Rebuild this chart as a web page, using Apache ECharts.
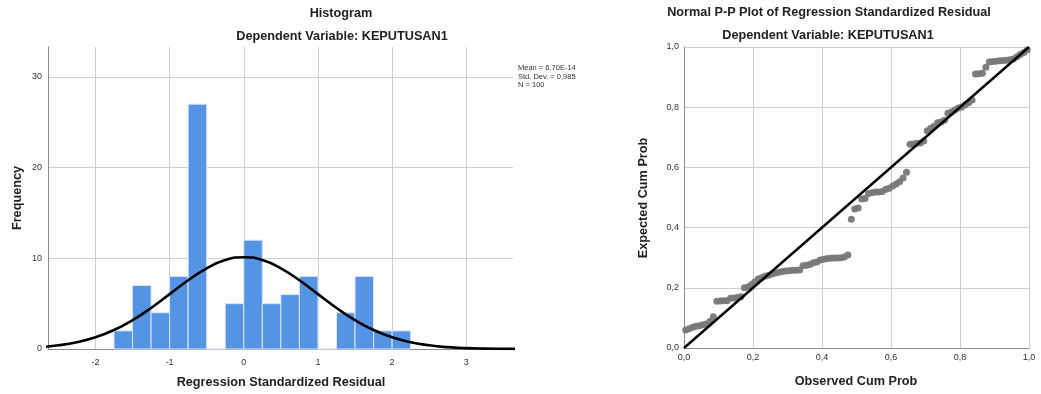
<!DOCTYPE html>
<html><head><meta charset="utf-8">
<script src="https://cdn.jsdelivr.net/npm/echarts@6/dist/echarts.min.js"></script>
<style>html,body{margin:0;padding:0;background:#fff}#c{width:1041px;height:394px}</style>
</head><body><div id="c"></div>
<script>
// Histogram bins: [start, end]
const binStart = [-1.75,-1.5,-1.25,-1.0,-0.75,-0.5,-0.25,0,0.25,0.5,0.75,1.0,1.25,1.5,1.75,2.0];
const binEnd   = [-1.5,-1.25,-1.0,-0.75,-0.5,-0.25,0,0.25,0.5,0.75,1.0,1.25,1.5,1.75,2.0,2.25];
const binCount = [2,7,4,8,27,0,5,12,5,6,8,0,4,8,2,2];
// Normal curve
const curveX = [-2.75,-2.5,-2.25,-2.0,-1.75,-1.5,-1.25,-1.0,-0.75,-0.5,-0.25,0,0.25,0.5,0.75,1.0,1.25,1.5,1.75,2.0,2.25,2.5,2.75,3.0,3.25,3.5,3.75];
const curveY = [0.205,0.404,0.745,1.288,2.089,3.175,4.525,6.048,7.577,8.901,9.804,10.125,9.804,8.901,7.577,6.048,4.525,3.175,2.089,1.288,0.745,0.404,0.205,0.098,0.044,0.018,0.007];
const histXTicks = [-2,-1,0,1,2,3];
const histYTicks = [0,10,20,30];
const statsLines = ['Mean = 6,70E-14','Std. Dev. = 0,985','N = 100'];
// P-P plot
const observedCum = [0.005,0.015,0.025,0.035,0.045,0.055,0.065,0.075,0.085,0.095,
0.105,0.115,0.125,0.135,0.145,0.155,0.165,0.175,0.185,0.195,
0.205,0.215,0.225,0.235,0.245,0.255,0.265,0.275,0.285,0.295,
0.305,0.315,0.325,0.335,0.345,0.355,0.365,0.375,0.385,0.395,
0.405,0.415,0.425,0.435,0.445,0.455,0.465,0.475,0.485,0.495,
0.505,0.515,0.525,0.535,0.545,0.555,0.565,0.575,0.585,0.595,
0.605,0.615,0.625,0.635,0.645,0.655,0.665,0.675,0.685,0.695,
0.705,0.715,0.725,0.735,0.745,0.755,0.765,0.775,0.785,0.795,
0.805,0.815,0.825,0.835,0.845,0.855,0.865,0.875,0.885,0.895,
0.905,0.915,0.925,0.935,0.945,0.955,0.965,0.975,0.985,0.995];
const expectedCum = [0.060,0.064,0.069,0.072,0.074,0.077,0.080,0.088,0.104,0.155,
0.156,0.157,0.157,0.165,0.166,0.168,0.170,0.200,0.203,0.210,
0.219,0.229,0.233,0.238,0.242,0.246,0.249,0.252,0.254,0.256,
0.257,0.258,0.258,0.259,0.273,0.275,0.277,0.283,0.286,0.292,
0.295,0.297,0.298,0.299,0.299,0.300,0.302,0.309,0.428,0.462,
0.465,0.495,0.497,0.513,0.516,0.518,0.518,0.520,0.527,0.531,
0.538,0.545,0.552,0.565,0.584,0.677,0.678,0.680,0.681,0.688,
0.722,0.730,0.737,0.748,0.751,0.757,0.780,0.784,0.791,0.797,
0.801,0.808,0.815,0.824,0.910,0.911,0.913,0.933,0.950,0.952,
0.953,0.954,0.955,0.956,0.958,0.960,0.968,0.975,0.982,0.990];
const diagX = [0,1];
const diagY = [0,1];

const FONT = '"Liberation Sans", Arial, sans-serif';
const chart = echarts.init(document.getElementById('c'));
const histData = binStart.map((s,i)=>[s,binEnd[i],binCount[i]]);
const commaFmt = v => v.toFixed(1).replace('.', ',');
const gridLine = {show:true, lineStyle:{color:'#cfcfcf', width:1}};
const axisLine = {show:true, onZero:false, lineStyle:{color:'#8c8c8c', width:1}};
const lbl = {color:'#333', fontSize:9, fontFamily:FONT};

chart.setOption({
  animation:false,
  grid:[
    {left:48, right:528, top:47, bottom:45},
    {left:684, right:12, top:47, bottom:46}
  ],
  xAxis:[
    {type:'value', gridIndex:0, min:-2.64, max:3.63,
     axisLine:axisLine, axisTick:{show:false, customValues:histXTicks},
     axisLabel:Object.assign({customValues:histXTicks, margin:9}, lbl),
     splitLine:gridLine},
    {type:'value', gridIndex:1, min:0, max:1, interval:0.2,
     axisLine:axisLine, axisTick:{show:false},
     axisLabel:Object.assign({formatter:commaFmt, margin:5}, lbl),
     splitLine:gridLine}
  ],
  yAxis:[
    {type:'value', gridIndex:0, min:0, max:33.3, interval:10,
     axisLine:axisLine, axisTick:{show:false, customValues:histYTicks},
     axisLabel:Object.assign({customValues:histYTicks, margin:6}, lbl),
     splitLine:gridLine},
    {type:'value', gridIndex:1, min:0, max:1, interval:0.2,
     axisLine:axisLine, axisTick:{show:false},
     axisLabel:Object.assign({formatter:commaFmt, margin:5}, lbl),
     splitLine:gridLine}
  ],
  series:[
    {type:'custom', xAxisIndex:0, yAxisIndex:0, data:histData,
     renderItem:function(params, api){
       const p0 = api.coord([api.value(0), 0]);
       const p1 = api.coord([api.value(1), api.value(2)]);
       return {type:'rect', shape:{x:p0[0], y:p1[1], width:p1[0]-p0[0], height:p0[1]-p1[1]},
         style:{fill:'#5594e4', stroke:'#d8e6f8', lineWidth:1}};
     }},
    {type:'line', xAxisIndex:0, yAxisIndex:0, data:curveX.map((x,i)=>[x,curveY[i]]),
     smooth:true, showSymbol:false, symbol:'none', clip:true,
     lineStyle:{color:'#000', width:2.6}},
    {type:'scatter', xAxisIndex:1, yAxisIndex:1, data:observedCum.map((x,i)=>[x,expectedCum[i]]),
     symbol:'circle', symbolSize:7, itemStyle:{color:'#787878', opacity:0.95}},
    {type:'line', xAxisIndex:1, yAxisIndex:1, data:diagX.map((x,i)=>[x,diagY[i]]),
     showSymbol:false, symbol:'none', lineStyle:{color:'#000', width:2.4}, z:5}
  ],
  graphic:[
    {type:'text', x:341, y:13, style:{text:'Histogram', font:'bold 12.7px '+FONT, fill:'#222', textAlign:'center', textVerticalAlign:'middle'}},
    {type:'text', x:342, y:36, style:{text:'Dependent Variable: KEPUTUSAN1', font:'bold 12.7px '+FONT, fill:'#222', textAlign:'center', textVerticalAlign:'middle'}},
    {type:'text', x:281, y:382, style:{text:'Regression Standardized Residual', font:'bold 12.7px '+FONT, fill:'#222', textAlign:'center', textVerticalAlign:'middle'}},
    {type:'text', x:17, y:198, rotation:Math.PI/2, style:{text:'Frequency', font:'bold 12.7px '+FONT, fill:'#222', textAlign:'center', textVerticalAlign:'middle'}},
    {type:'text', x:518, y:64, style:{text:statsLines.join('\n'), font:'7.5px '+FONT, fill:'#333', textAlign:'left', textVerticalAlign:'top', lineHeight:8.3}},
    {type:'text', x:829, y:12, style:{text:'Normal P-P Plot of Regression Standardized Residual', font:'bold 12.7px '+FONT, fill:'#222', textAlign:'center', textVerticalAlign:'middle'}},
    {type:'text', x:828, y:35, style:{text:'Dependent Variable: KEPUTUSAN1', font:'bold 12.7px '+FONT, fill:'#222', textAlign:'center', textVerticalAlign:'middle'}},
    {type:'text', x:856, y:381, style:{text:'Observed Cum Prob', font:'bold 12.7px '+FONT, fill:'#222', textAlign:'center', textVerticalAlign:'middle'}},
    {type:'text', x:643, y:198, rotation:Math.PI/2, style:{text:'Expected Cum Prob', font:'bold 12.7px '+FONT, fill:'#222', textAlign:'center', textVerticalAlign:'middle'}}
  ]
});
</script></body></html>
